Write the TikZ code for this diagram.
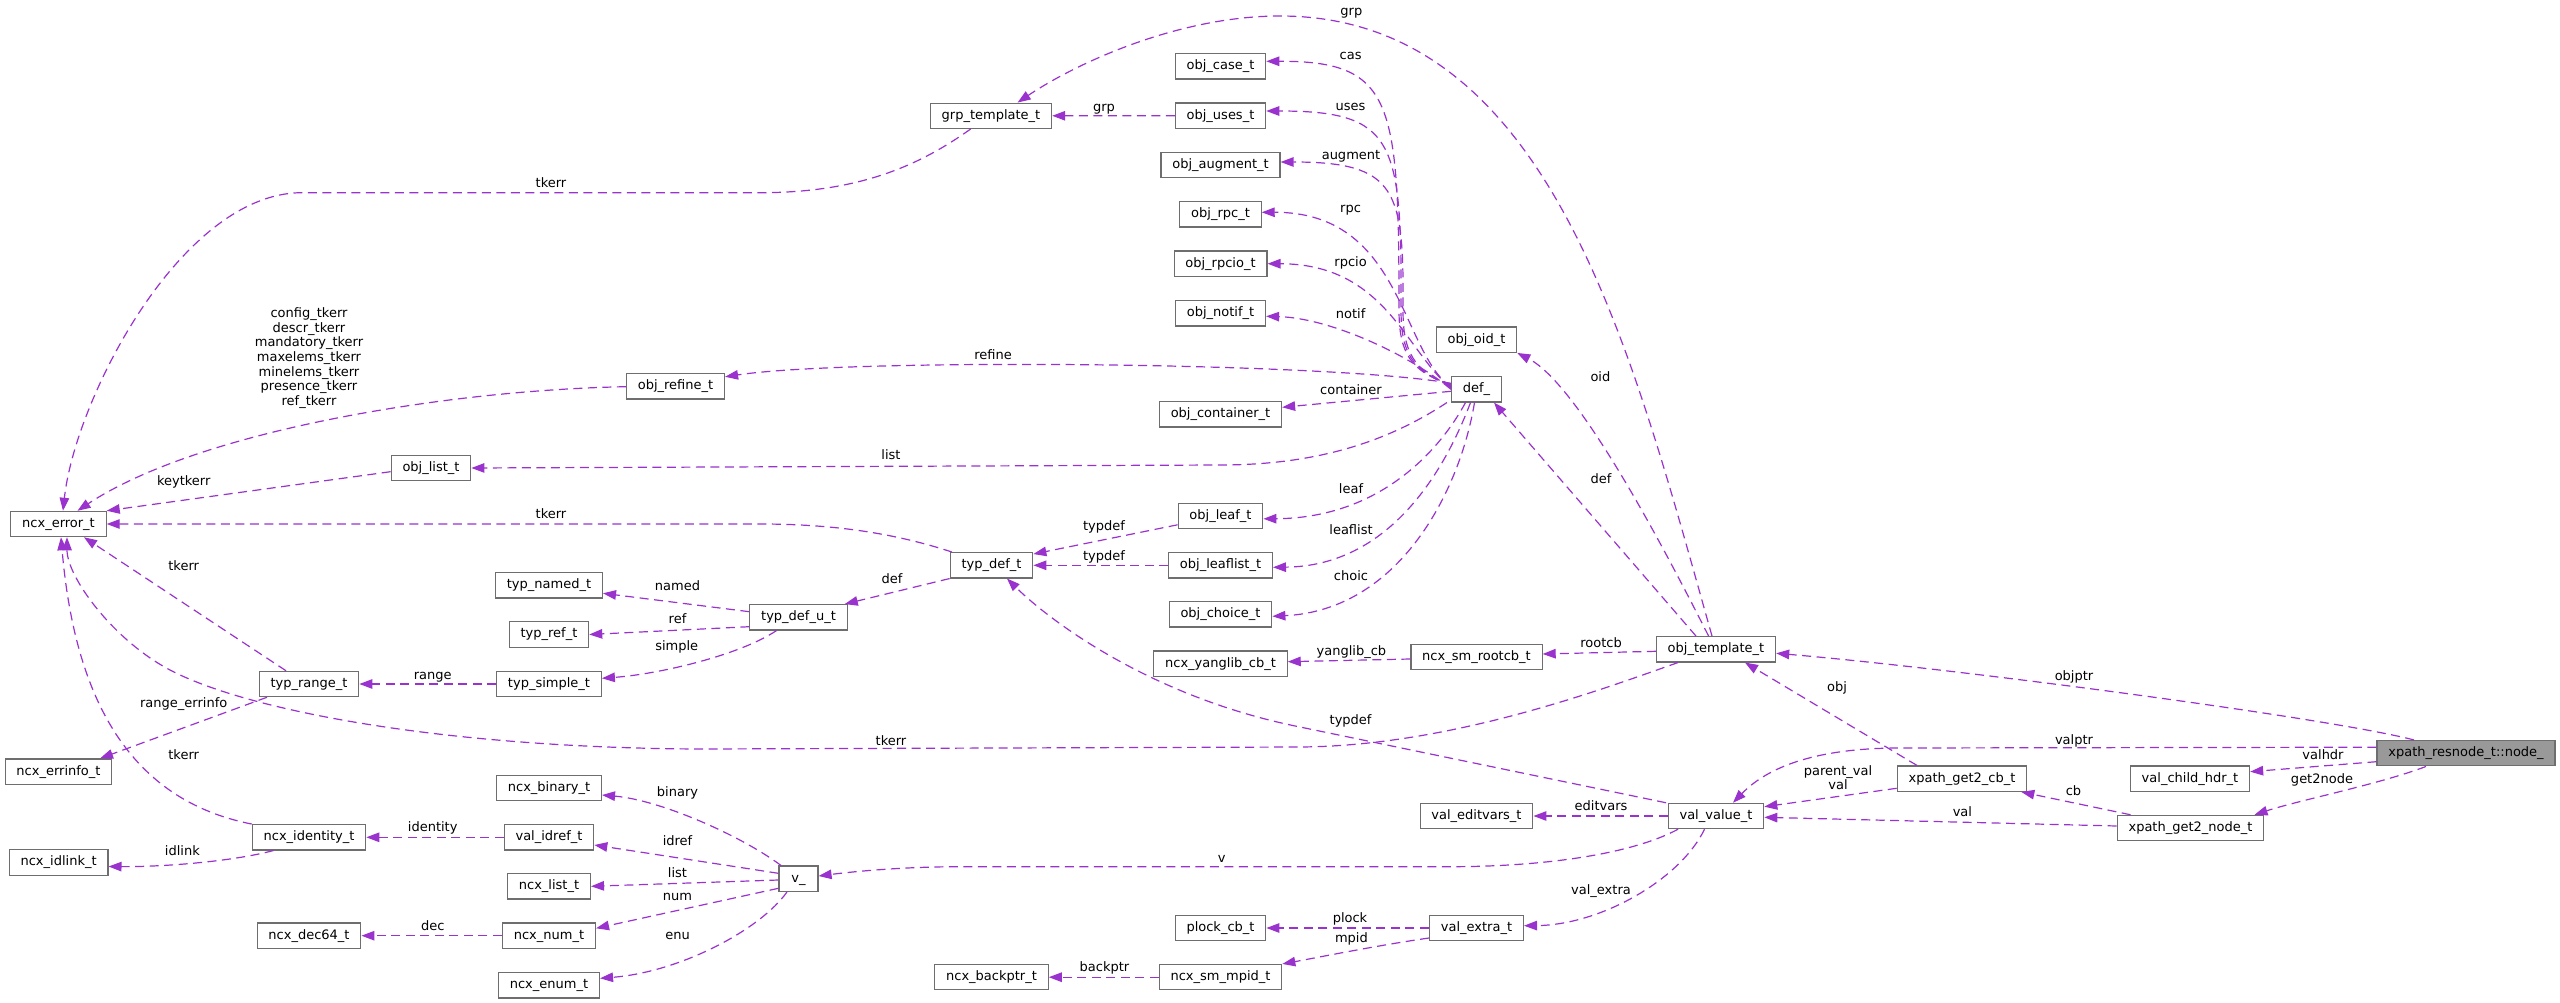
\documentclass[tikz,border=0pt]{standalone}
\usepackage{fontspec}
\setmainfont{DejaVu Sans}
\usetikzlibrary{arrows.meta}
\definecolor{edgec}{RGB}{154,50,205}
\definecolor{boxc}{RGB}{110,110,110}
\definecolor{mainfill}{RGB}{153,153,153}
\newcommand\dfont{\fontsize{13pt}{14.6pt}\selectfont}
\tikzset{
 box/.style={draw=boxc, fill=white, line width=1.2pt, minimum height=25.3pt, minimum width=39pt, inner xsep=11.3pt, inner ysep=0pt, text height=9.6pt, text depth=2.9pt, font=\dfont},
 mainbox/.style={box, fill=mainfill},
 edge/.style={draw=edgec, line width=1.2pt, dash pattern=on 9pt off 5.5pt, -{Triangle[length=13pt,width=9.5pt]}},
 lbl/.style={font=\dfont, inner sep=0pt, text height=9.6pt, text depth=2.9pt},
 lblm/.style={font=\dfont, inner sep=0pt, align=center},
}
\begin{document}
\begin{tikzpicture}[x=1pt,y=-1pt]
\useasboundingbox (0,0) rectangle (2560,1003);
% ---------- nodes ----------
\node[box] (ncxerr) at (58.5,524) {ncx\_error\_t};
\node[box] (ncxerrinfo) at (58.5,771.7) {ncx\_errinfo\_t};
\node[box] (ncxidlink) at (58.6,862.5) {ncx\_idlink\_t};
\node[box] (typrange) at (309,684) {typ\_range\_t};
\node[box] (ncxidentity) at (309,837.3) {ncx\_identity\_t};
\node[box] (ncxdec) at (309,935.7) {ncx\_dec64\_t};
\node[box] (objlist) at (431,468) {obj\_list\_t};
\node[box] (objrefine) at (675.5,386.3) {obj\_refine\_t};
\node[box] (typnamed) at (549,585.3) {typ\_named\_t};
\node[box] (typref) at (549,634.5) {typ\_ref\_t};
\node[box] (typsimple) at (549,684) {typ\_simple\_t};
\node[box] (ncxbinary) at (549,788) {ncx\_binary\_t};
\node[box] (validref) at (549,837.3) {val\_idref\_t};
\node[box] (ncxlist) at (549,886.3) {ncx\_list\_t};
\node[box] (ncxnum) at (549,935.7) {ncx\_num\_t};
\node[box] (ncxenum) at (549,985.3) {ncx\_enum\_t};
\node[box] (typdefu) at (798.5,617.3) {typ\_def\_u\_t};
\node[box] (vnode) at (798.5,878.7) {v\_};
\node[box] (grptmpl) at (991,115.8) {grp\_template\_t};
\node[box] (typdef) at (991.5,565.3) {typ\_def\_t};
\node[box] (ncxbackptr) at (991.5,977.2) {ncx\_backptr\_t};
\node[box] (objcase) at (1220.5,66.3) {obj\_case\_t};
\node[box] (objuses) at (1220.5,115.7) {obj\_uses\_t};
\node[box] (objaugment) at (1220.5,165) {obj\_augment\_t};
\node[box] (objrpc) at (1220.5,214.3) {obj\_rpc\_t};
\node[box] (objrpcio) at (1220.5,263.7) {obj\_rpcio\_t};
\node[box] (objnotif) at (1220.5,313.3) {obj\_notif\_t};
\node[box] (objcontainer) at (1220.5,414.3) {obj\_container\_t};
\node[box] (objleaf) at (1220.5,515.8) {obj\_leaf\_t};
\node[box] (objleaflist) at (1220.5,565.3) {obj\_leaflist\_t};
\node[box] (objchoice) at (1220.5,614.3) {obj\_choice\_t};
\node[box] (yanglib) at (1220.5,663.7) {ncx\_yanglib\_cb\_t};
\node[box] (plock) at (1220.5,928) {plock\_cb\_t};
\node[box] (smmpid) at (1220.5,977.2) {ncx\_sm\_mpid\_t};
\node[box] (objoid) at (1476.5,339.7) {obj\_oid\_t};
\node[box] (defn) at (1476.5,389.3) {def\_};
\node[box] (rootcb) at (1476.5,657) {ncx\_sm\_rootcb\_t};
\node[box] (valeditvars) at (1476.5,816) {val\_editvars\_t};
\node[box] (valextra) at (1476.5,928) {val\_extra\_t};
\node[box] (objtmpl) at (1716,649.3) {obj\_template\_t};
\node[box] (valvalue) at (1716,816) {val\_value\_t};
\node[box] (get2cb) at (1962,778.7) {xpath\_get2\_cb\_t};
\node[box] (valchild) at (2190,778.7) {val\_child\_hdr\_t};
\node[box] (get2node) at (2190.5,828) {xpath\_get2\_node\_t};
\node[mainbox] (resnode) at (2466,753.2) {xpath\_resnode\_t::node\_};
% ---------- edges ----------
% grp (obj_template_t)
\draw[edge] ([xshift=-4pt]objtmpl.north) .. controls (1631,349) and (1550,16) .. (1280,16) .. controls (1180,16) and (1078,62) .. ([xshift=26.6pt]grptmpl.north);
% grp (obj_uses_t)
\draw[edge] (objuses.west) -- (grptmpl.east);
% fan from def_
\draw[edge] ([yshift=5pt]defn.west) .. controls (1410,372) and (1399,352) .. (1399,310) .. controls (1399,100) and (1393,61) .. ([yshift=5pt]objcase.east);
\draw[edge] ([yshift=4pt]defn.west) .. controls (1411,371) and (1401,351) .. (1401,310) .. controls (1402,140) and (1395,111) .. ([yshift=4.7pt]objuses.east);
\draw[edge] ([yshift=3pt]defn.west) .. controls (1412,370) and (1403,350) .. (1403,310) .. controls (1404,190) and (1397,162) .. ([yshift=3pt]objaugment.east);
\draw[edge] ([yshift=2pt]defn.west) .. controls (1400,350) and (1402,212) .. ([yshift=2pt]objrpc.east);
\draw[edge] ([yshift=1pt]defn.west) .. controls (1405,350) and (1385,264) .. (objrpcio.east);
\draw[edge] (defn.west) .. controls (1410,355) and (1330,318) .. ([yshift=-3pt]objnotif.east);
% oid, def
\draw[edge] ([xshift=-7.4pt]objtmpl.north) .. controls (1670,560) and (1580,385) .. (objoid.south east);
\draw[edge] ([xshift=-20pt]objtmpl.north) -- ([xshift=17.5pt]defn.south);
% refine, container, list
\draw[edge] ([yshift=6pt]defn.west) .. controls (1330,362) and (850,358) .. ([yshift=9.5pt]objrefine.east);
\draw[edge] ([yshift=-2pt]defn.west) -- ([yshift=7pt]objcontainer.east);
\draw[edge] ([xshift=-4pt]defn.south west) .. controls (1390,440) and (1320,465) .. (1220,465) -- (objlist.east);
% leaf, leaflist, choice
\draw[edge] ([xshift=-11pt]defn.south) .. controls (1440,450) and (1380,518) .. ([yshift=-3pt]objleaf.east);
\draw[edge] ([xshift=-6pt]defn.south) .. controls (1445,470) and (1390,566) .. ([yshift=-2pt]objleaflist.east);
\draw[edge] ([xshift=-2pt]defn.south) .. controls (1460,490) and (1400,610) .. ([yshift=-2pt]objchoice.east);
% rootcb, yanglib_cb
\draw[edge] ([yshift=-2pt]objtmpl.west) -- ([yshift=3pt]rootcb.east);
\draw[edge] ([yshift=-2pt]rootcb.west) -- ([yshift=2pt]yanglib.east);
% right side
\draw[edge] ([xshift=-52pt]resnode.north) .. controls (2330,718) and (1950,668) .. ([yshift=-4pt]objtmpl.east);
\draw[edge] ([yshift=6pt]resnode.west) -- (1900,748) .. controls (1800,748) and (1760,775) .. ([xshift=17pt]valvalue.north);
\draw[edge] ([yshift=-8.5pt]resnode.west) -- ([yshift=7pt]valchild.east);
\draw[edge] ([xshift=-40pt]resnode.south) .. controls (2380,784) and (2300,800) .. ([xshift=64pt]get2node.north);
\draw[edge] ([xshift=-60pt]get2node.north) -- ([xshift=-6pt]get2cb.south east);
\draw[edge] ([yshift=2pt]get2node.west) -- ([yshift=-1.3pt]valvalue.east);
\draw[edge] ([yshift=-9.6pt]get2cb.west) -- ([yshift=9.3pt]valvalue.east);
\draw[edge] ([xshift=-45pt]get2cb.north) -- ([xshift=29pt]objtmpl.south);
\draw[edge] (valvalue.west) -- (valeditvars.east);
\draw[edge] ([xshift=-11.5pt]valvalue.south) .. controls (1680,880) and (1600,925) .. ([yshift=2.3pt]valextra.east);
\draw[edge] (valextra.west) -- (plock.east);
\draw[edge] ([yshift=-10pt]valextra.west) .. controls (1380,945) and (1320,957) .. (smmpid.north east);
\draw[edge] (smmpid.west) -- (ncxbackptr.east);
% v
\draw[edge] ([xshift=-38pt]valvalue.south) .. controls (1630,855) and (1540,866.7) .. (1450,866.7) -- (960,866.7) .. controls (900,866.7) and (850,872) .. ([yshift=2.7pt]vnode.east);
% typdef from val_value_t
\draw[edge] ([xshift=-50pt]valvalue.north) -- (1300,727) .. controls (1150,697) and (1049,620) .. ([xshift=15.5pt]typdef.south);
% tkerr from obj_template_t
\draw[edge] ([xshift=-38pt]objtmpl.south) .. controls (1600,690) and (1450,746) .. (1300,747) -- (700,749) .. controls (450,748) and (250,712) .. (170,670) .. controls (113,640) and (67,577) .. ([xshift=8.5pt]ncxerr.south);
% tkerr from typ_def_t
\draw[edge] ([xshift=-39.5pt]typdef.north) .. controls (900,535) and (840,524) .. (760,524) -- (ncxerr.east);
% tkerr from grp_template_t
\draw[edge] ([xshift=-20.4pt]grptmpl.south) .. controls (920,165) and (860,192.7) .. (760,192.7) -- (300,192.7) .. controls (180,195) and (75,400) .. ([xshift=4.5pt]ncxerr.north);
% config_tkerr ...
\draw[edge] ([yshift=-0.4pt]objrefine.west) .. controls (450,390) and (200,430) .. ([xshift=19pt]ncxerr.north);
% keytkerr
\draw[edge] ([yshift=-3.7pt]objlist.west) -- (ncxerr.north east);
% typdef leaf / leaflist
\draw[edge] ([yshift=-9pt]objleaf.west) -- ([yshift=-2pt]typdef.north east);
\draw[edge] (objleaflist.west) -- (typdef.east);
% def
\draw[edge] (typdef.south west) -- ([xshift=-3pt]typdefu.north east);
% named, ref, simple
\draw[edge] ([yshift=5.6pt]typdefu.west) -- ([yshift=-8pt]typnamed.east);
\draw[edge] ([yshift=-9.4pt]typdefu.west) -- (typref.east);
\draw[edge] ([xshift=-22pt]typdefu.south) .. controls (740,655) and (660,674) .. ([yshift=5.7pt]typsimple.east);
% range, range_errinfo, tkerr
\draw[edge] (typsimple.west) -- (typrange.east);
\draw[edge] ([xshift=-42pt]typrange.south) -- ([xshift=41.5pt]ncxerrinfo.north);
\draw[edge] ([xshift=-23pt]typrange.north) -- ([xshift=25.5pt]ncxerr.south);
% identity, idlink, tkerr
\draw[edge] (validref.west) -- (ncxidentity.east);
\draw[edge] ([xshift=-35.5pt]ncxidentity.south) .. controls (230,862) and (160,867) .. ([yshift=-4pt]ncxidlink.east);
\draw[edge] (ncxidentity.north west) .. controls (130,800) and (75,700) .. ([xshift=2.5pt]ncxerr.south);
% dec
\draw[edge] (ncxnum.west) -- (ncxdec.east);
% v_ members
\draw[edge] ([xshift=-17.5pt]vnode.north) .. controls (740,835) and (660,800) .. ([yshift=-7pt]ncxbinary.east);
\draw[edge] ([yshift=5.4pt]vnode.west) -- ([yshift=-7.7pt]validref.east);
\draw[edge] ([yshift=-1.3pt]vnode.west) -- (ncxlist.east);
\draw[edge] ([yshift=-9.6pt]vnode.west) -- ([yshift=7.4pt]ncxnum.east);
\draw[edge] ([xshift=-11.5pt]vnode.south) .. controls (760,930) and (680,972) .. ([yshift=7pt]ncxenum.east);
% ---------- labels ----------
\node[lbl] (l01) at (1351.4,12.3) {grp};
\node[lbl] (l01b) at (1104,108.3) {grp};
\node[lbl] (l02) at (1350.6,55.7) {cas};
\node[lbl] (l03) at (1350.6,106.7) {uses};
\node[lbl] (l04) at (1351,155.7) {augment};
\node[lbl] (l05) at (1350.6,209) {rpc};
\node[lbl] (l06) at (1350.6,263) {rpcio};
\node[lbl] (l07) at (1350.6,315) {notif};
\node[lbl] (l08) at (551,184.3) {tkerr};
\node[lblm] (l09) at (309,358) {config\_tkerr\\descr\_tkerr\\mandatory\_tkerr\\maxelems\_tkerr\\minelems\_tkerr\\presence\_tkerr\\ref\_tkerr};
\node[lbl] (l10) at (993,355.7) {refine};
\node[lbl] (l11) at (1351,390.7) {container};
\node[lbl] (l12) at (1600.4,378.3) {oid};
\node[lbl] (l13) at (891,456.3) {list};
\node[lbl] (l14) at (183.7,482.3) {keytkerr};
\node[lbl] (l15) at (1351,490) {leaf};
\node[lbl] (l16) at (1601,480.3) {def};
\node[lbl] (l17) at (551,515) {tkerr};
\node[lbl] (l18) at (1104,527.3) {typdef};
\node[lbl] (l19) at (1351,531) {leaflist};
\node[lbl] (l20) at (1104,556.7) {typdef};
\node[lbl] (l21) at (183.7,567.3) {tkerr};
\node[lbl] (l22) at (1351,576.7) {choic};
\node[lbl] (l23) at (892,580) {def};
\node[lbl] (l24) at (677.5,587.3) {named};
\node[lbl] (l25) at (677.5,620) {ref};
\node[lbl] (l26) at (1601,644.3) {rootcb};
\node[lbl] (l27) at (676.7,646.7) {simple};
\node[lbl] (l28) at (1351.4,651.7) {yanglib\_cb};
\node[lbl] (l29) at (432.7,675.7) {range};
\node[lbl] (l30) at (2074,676.7) {objptr};
\node[lbl] (l31) at (1837,687.7) {obj};
\node[lbl] (l32) at (183.7,704.3) {range\_errinfo};
\node[lbl] (l33) at (1350.6,720.7) {typdef};
\node[lbl] (l34) at (2074,740.7) {valptr};
\node[lbl] (l35) at (891,742.3) {tkerr};
\node[lbl] (l36) at (183.7,755.7) {tkerr};
\node[lbl] (l37) at (2323,755.7) {valhdr};
\node[lblm] (l38) at (1838,777.5) {parent\_val\\[-1pt]val};
\node[lbl] (l39) at (2322,780.3) {get2node};
\node[lbl] (l40) at (2073.5,791.7) {cb};
\node[lbl] (l41) at (677.5,792.7) {binary};
\node[lbl] (l42) at (1601,807) {editvars};
\node[lbl] (l43) at (1962.4,812.7) {val};
\node[lbl] (l44) at (432.7,828.3) {identity};
\node[lbl] (l45) at (677.5,842) {idref};
\node[lbl] (l46) at (182.4,852.3) {idlink};
\node[lbl] (l47) at (1221.6,859) {v};
\node[lbl] (l48) at (677.5,874.3) {list};
\node[lbl] (l49) at (1601,891) {val\_extra};
\node[lbl] (l50) at (677.5,896.7) {num};
\node[lbl] (l51) at (1350,919.3) {plock};
\node[lbl] (l52) at (432.7,927.3) {dec};
\node[lbl] (l53) at (677.5,936) {enu};
\node[lbl] (l54) at (1351.4,939.3) {mpid};
\node[lbl] (l55) at (1104.5,968.3) {backptr};
\end{tikzpicture}
\end{document}
